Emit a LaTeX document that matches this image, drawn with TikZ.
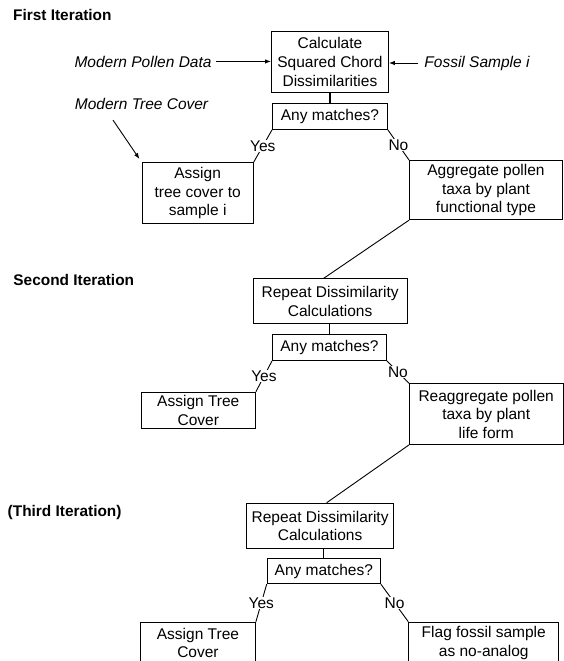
\documentclass[tikz,border=0pt]{standalone}
\usepackage{fontspec}
\setmainfont{Liberation Sans}
\usetikzlibrary{arrows.meta,calc}
\begin{document}
\begin{tikzpicture}[x=1pt,y=-1pt,font=\fontsize{15.5}{18.6}\selectfont,line width=.9pt,
 box/.style={draw,anchor=north west,align=center,inner sep=0pt},
 lab/.style={fill=white,inner sep=.5pt},
 feed/.style={-{Latex[length=6pt,width=4.5pt]}}]
\useasboundingbox (0,0) rectangle (564,661);
% iteration headings
\node[anchor=base west,inner sep=0pt,font=\fontsize{15.4}{18.5}\selectfont\bfseries] (it1) at (12.7,20.7) {First Iteration};
\node[anchor=base west,inner sep=0pt,font=\fontsize{15.4}{18.5}\selectfont\bfseries] (it2) at (13,285.5) {Second Iteration};
\node[anchor=base west,inner sep=0pt,font=\fontsize{15.4}{18.5}\selectfont\bfseries] (it3) at (7.3,516) {(Third Iteration)};
% inputs
\node[anchor=base east,inner sep=0pt,font=\fontsize{15.5}{18.6}\selectfont\itshape] (mpd) at (212,67) {Modern Pollen Data};
\node[anchor=base west,inner sep=0pt,font=\fontsize{15.5}{18.6}\selectfont\itshape] (fsi) at (424,67) {Fossil Sample i};
\node[anchor=base west,inner sep=0pt,font=\fontsize{15.5}{18.6}\selectfont\itshape] (mtc) at (74.5,109.5) {Modern Tree Cover};
% boxes
\node[box,minimum width=117,minimum height=61] (calc) at (271,31) {Calculate\\Squared Chord\\Dissimilarities};
\node[box,minimum width=111,minimum height=61] (as1) at (141.7,162.3) {Assign\\tree cover to\\sample i};
\node[box,minimum width=153,minimum height=59.3] (agg) at (409,160) {Aggregate pollen\\taxa by plant\\functional type};
\node[box,minimum width=154,minimum height=45] (rep2) at (252.7,278.3) {Repeat Dissimilarity\\Calculations};
\node[box,minimum width=114.3,minimum height=36.6] (as2) at (140.7,391.7) {Assign Tree\\Cover};
\node[box,minimum width=153.5,minimum height=60.7] (reagg) at (409,383.3) {Reaggregate pollen\\taxa by plant\\life form};
\node[box,minimum width=147.3,minimum height=45.6] (rep3) at (246,502.7) {Repeat Dissimilarity\\Calculations};
\node[box,minimum width=115,minimum height=42] (as3) at (140,621.7) {Assign Tree\\Cover};
\node[box,minimum width=150,minimum height=42] (flag) at (408.3,621.7) {Flag fossil sample\\as no-analog};
\foreach \n/\x/\y/\w/\h in {1/272/103/115/26,2/272/334/114/26,3/266.7/558.3/113.3/25}{
 \node[box,minimum width=\w,minimum height=\h] (any\n) at (\x,\y) {Any matches?};
}
% connectors
\draw[feed,shorten <=4pt] (mpd.east) -- (calc.west |- mpd.east);
\draw[feed,shorten <=6pt] (fsi.west) -- (calc.east |- fsi.west);
\draw[feed,shorten >=4pt] ($(mtc.south west)+(38.5,10)$) -- (as1.north west);
\draw[line width=1.4pt] (any1.north) -- (any1.north |- calc.south);
\draw (any2.north) -- (any2.north |- rep2.south);
\draw (any3.north) -- (any3.north |- rep3.south);
\foreach \n/\l/\r in {1/as1/agg,2/as2/reagg,3/as3/flag}{
 \draw (any\n.south west) -- node[lab]{Yes} (\l.north east);
 \draw (any\n.south east) -- node[lab]{No} (\r.north west);
}
\draw (agg.south west) -- ($(rep2.north west)+(71,0)$);
\draw (reagg.south west) -- ($(rep3.north west)+(80.7,0)$);
\end{tikzpicture}
\end{document}
